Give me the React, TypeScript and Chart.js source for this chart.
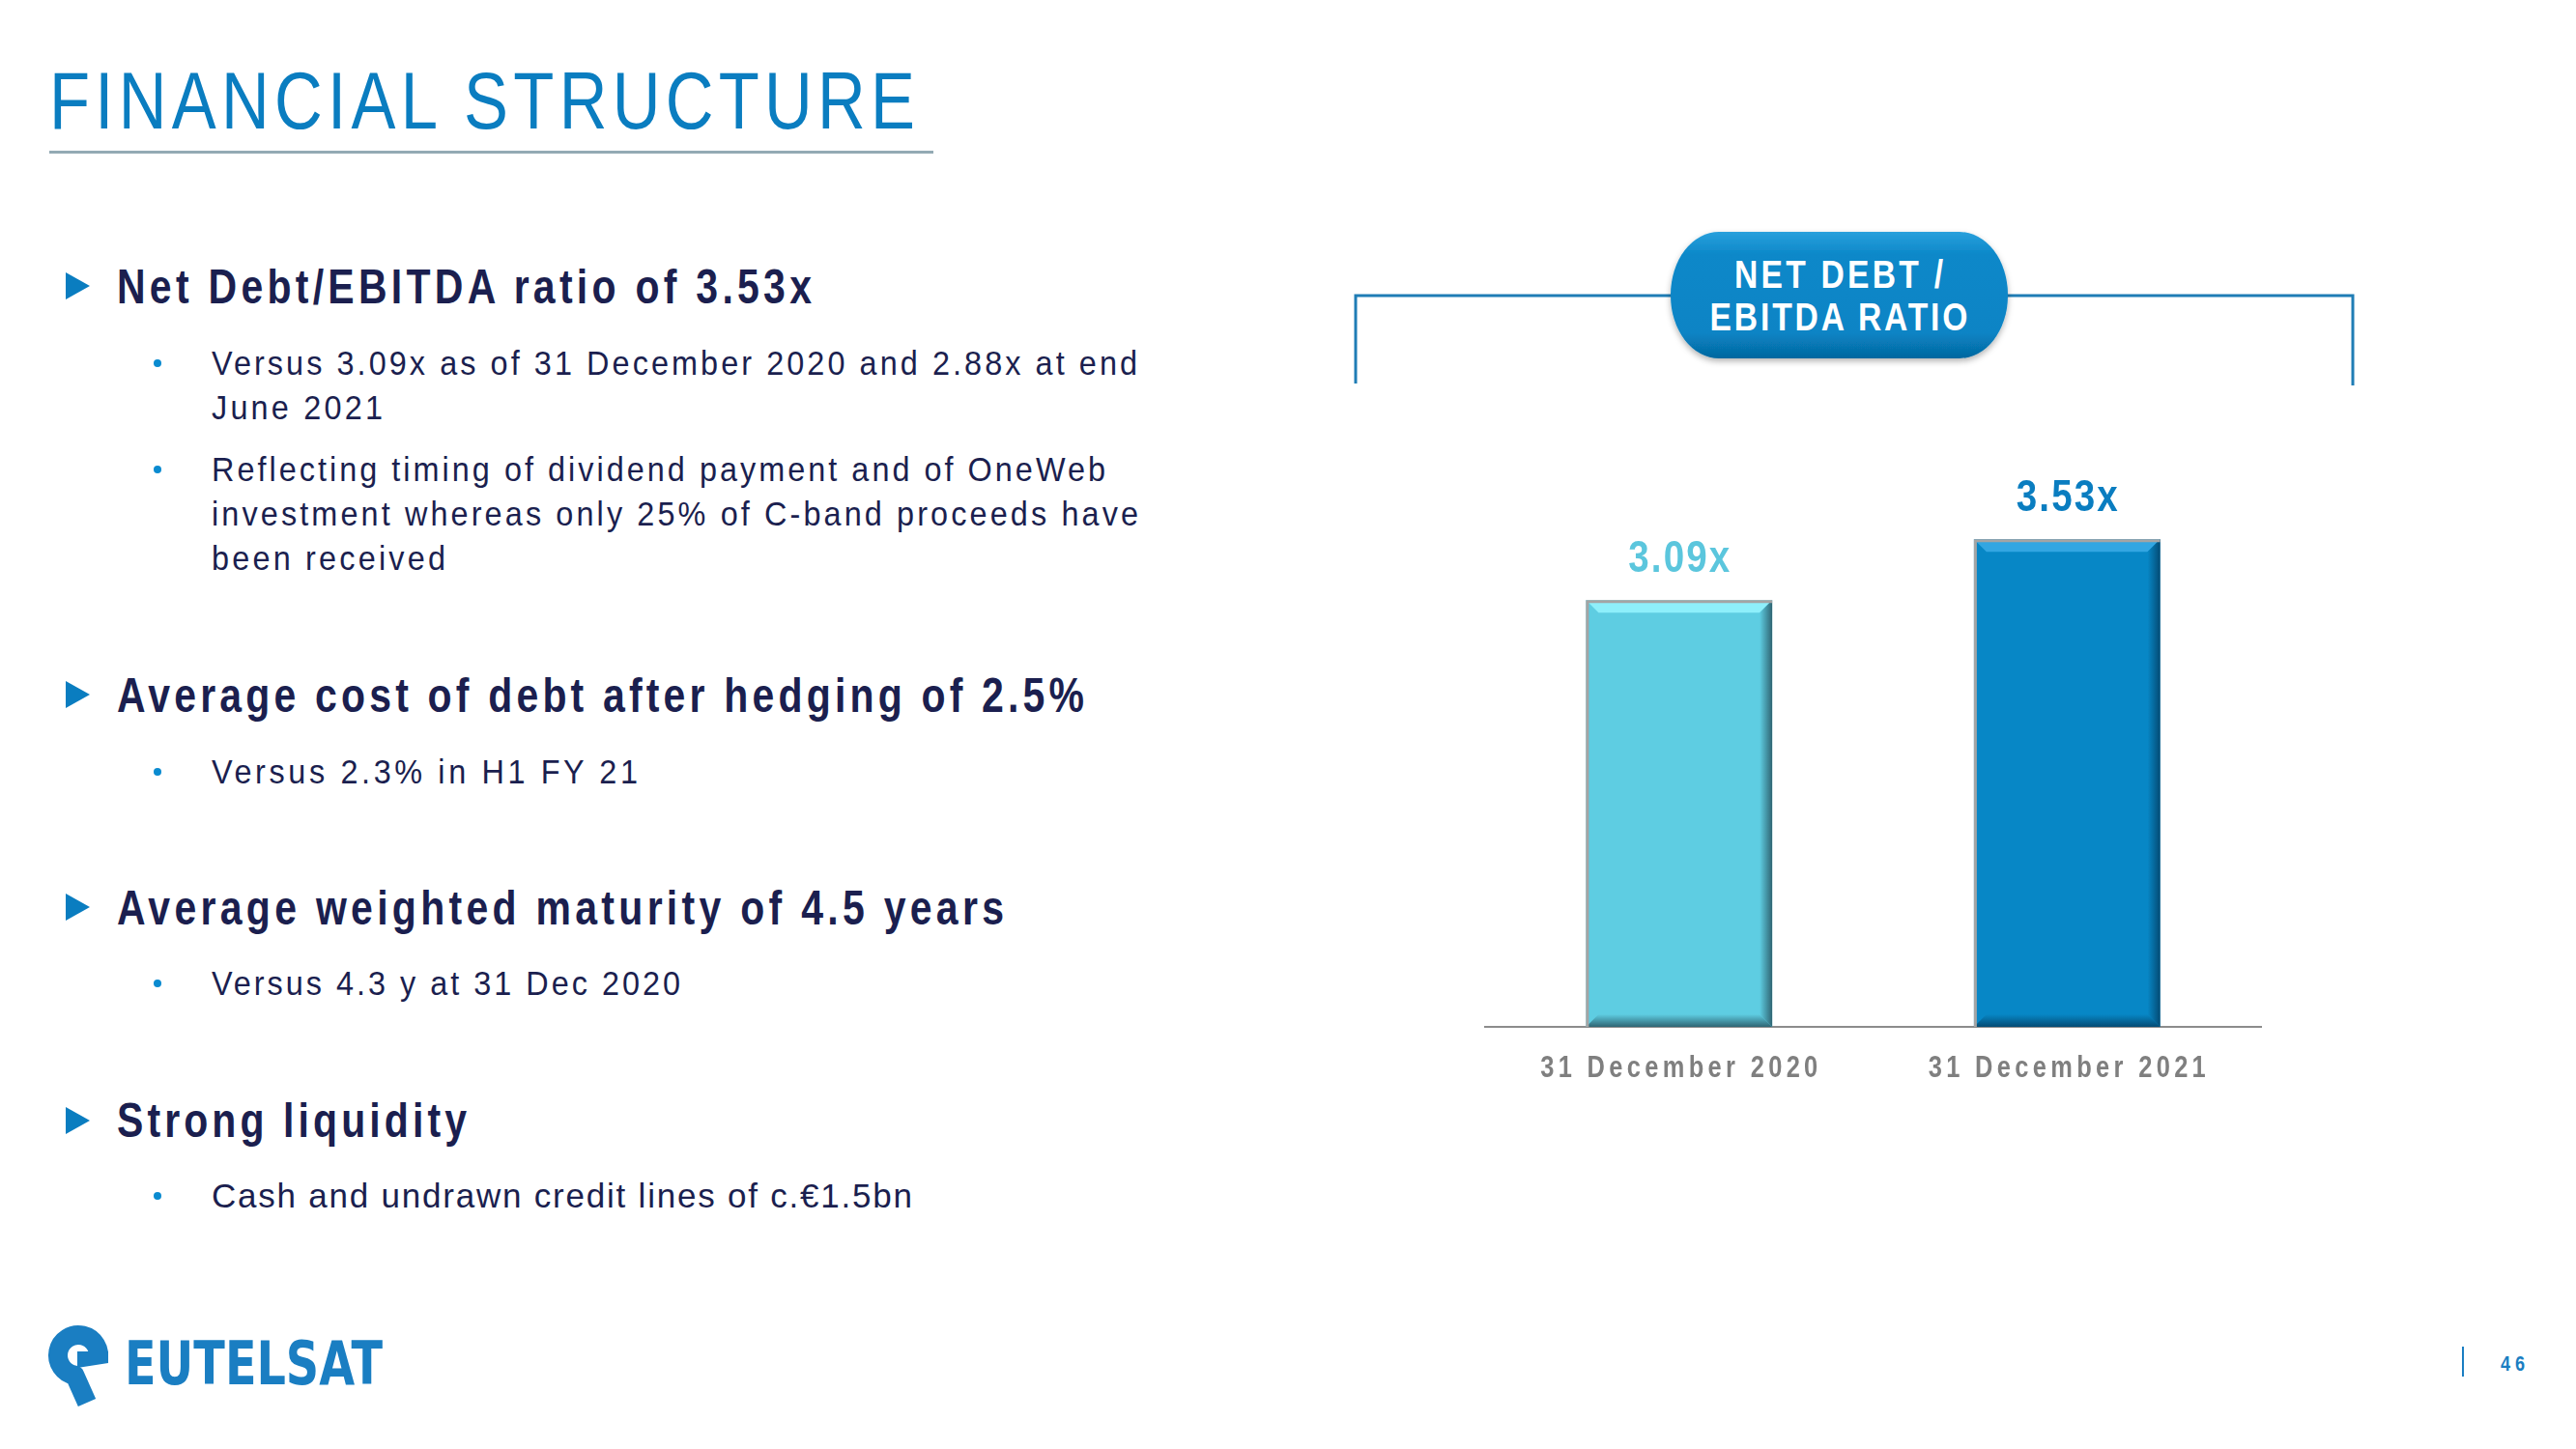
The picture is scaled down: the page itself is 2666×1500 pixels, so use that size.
import React, { useEffect, useRef } from "react";
import { Chart, registerables } from "chart.js";

Chart.register(...registerables);

// ---- chart data ----
const categories = ["31 December 2020", "31 December 2021"];
const ratioValues = [3.09, 3.53];
const valueSuffix = "x";
const yAxisMax = 4;

// ---- styles ----
const SANS = '"Liberation Sans", Arial, sans-serif';
const K = 0.82; // horizontal condensing (narrow face look)
const KB = 0.9; // body text condensing
const BLUE = "#0A7DC0";
const NAVY = "#1B1F4F";
const barColors = ["#5ECDE2", "#0787C6"];
const barLight = ["#8EEFFB", "#33A6E2"];
const barDark = ["#2F6573", "#044B74"];
const labelColors = ["#5BC6DD", "#0A7DC0"];
const tickLabelWidth = 287;
const valueLabelWidth = 105;

function poly(ctx: CanvasRenderingContext2D, pts: number[][], fill: any) {
  ctx.beginPath();
  ctx.moveTo(pts[0][0], pts[0][1]);
  for (let i = 1; i < pts.length; i++) ctx.lineTo(pts[i][0], pts[i][1]);
  ctx.closePath();
  ctx.fillStyle = fill;
  ctx.fill();
}

// draws text horizontally condensed, spaced to a target width, centred on cx
function drawCondensed(ctx: CanvasRenderingContext2D, text: string, cx: number, y: number, targetW: number) {
  ctx.save();
  (ctx as any).letterSpacing = "0px";
  const m = ctx.measureText(text).width;
  const n = text.length;
  const s = (targetW / K - m) / (n - 1);
  (ctx as any).letterSpacing = s + "px";
  ctx.translate(cx, y);
  ctx.scale(K, 1);
  ctx.textAlign = "left";
  ctx.textBaseline = "alphabetic";
  const total = m + s * (n - 1);
  ctx.fillText(text, -total / 2, 0);
  ctx.restore();
}

const bevelPlugin = {
  id: "bevel",
  afterDatasetsDraw(chart: any) {
    const ctx: CanvasRenderingContext2D = chart.ctx;
    const meta = chart.getDatasetMeta(0);
    meta.data.forEach((bar: any, i: number) => {
      const { x, y, base, width } = bar.getProps(["x", "y", "base", "width"], true);
      const L = x - width / 2;
      const R = x + width / 2;
      const T = y;
      const B = base;
      const b = 13;
      ctx.save();
      poly(ctx, [[L, T], [R, T], [R - b, T + b], [L + b, T + b]], barLight[i]);
      const gr = ctx.createLinearGradient(R - b, 0, R, 0);
      gr.addColorStop(0, barColors[i]);
      gr.addColorStop(1, barDark[i]);
      poly(ctx, [[R, T], [R, B], [R - b, B - b], [R - b, T + b]], gr);
      const gb = ctx.createLinearGradient(0, B - b, 0, B);
      gb.addColorStop(0, barColors[i]);
      gb.addColorStop(1, barDark[i]);
      poly(ctx, [[L, B], [R, B], [R - b, B - b], [L + b, B - b]], gb);
      ctx.strokeStyle = "#A4A4A4";
      ctx.lineWidth = 3;
      ctx.beginPath();
      ctx.moveTo(L + 1.5, B);
      ctx.lineTo(L + 1.5, T + 1.5);
      ctx.lineTo(R, T + 1.5);
      ctx.stroke();
      // value label
      ctx.font = `bold 47px ${SANS}`;
      ctx.fillStyle = labelColors[i];
      const v = chart.data.datasets[0].data[i] as number;
      drawCondensed(ctx, v.toFixed(2) + valueSuffix, x, T - 29, valueLabelWidth);
      ctx.restore();
    });
  },
};

const tickLabelPlugin = {
  id: "tickLabels",
  afterDraw(chart: any) {
    const ctx: CanvasRenderingContext2D = chart.ctx;
    const xs = chart.scales.x;
    ctx.save();
    ctx.font = `bold 31px ${SANS}`;
    ctx.fillStyle = "#7F7F7F";
    xs.ticks.forEach((t: any, i: number) => {
      const px = xs.getPixelForTick(i);
      const label = String(xs.getLabelForValue(t.value));
      drawCondensed(ctx, label, px, xs.top + 52, tickLabelWidth);
    });
    ctx.restore();
  },
};

type TProps = {
  x: number;
  y: number;
  w: number;
  size: number;
  weight?: string | number;
  fill?: string;
  anchor?: string;
  k?: number;
  children: React.ReactNode;
};

function Txt({ x, y, w, size, weight = "normal", fill = NAVY, anchor = "start", k = K, children }: TProps) {
  return (
    <text
      transform={`translate(${x} ${y}) scale(${k} 1)`}
      x={0}
      y={0}
      textLength={w / k}
      lengthAdjust="spacing"
      fontSize={size}
      fontWeight={weight as any}
      fill={fill}
      fontFamily={SANS}
      textAnchor={anchor as any}
    >
      {children}
    </text>
  );
}

function Tri({ cy }: { cy: number }) {
  return <polygon points={`68,${cy - 14} 93,${cy} 68,${cy + 14}`} fill={BLUE} />;
}

function Dot({ cy }: { cy: number }) {
  return <circle cx={163} cy={cy} r={4} fill="#0A8BD0" />;
}

export default function App() {
  const canvasRef = useRef<HTMLCanvasElement>(null);

  useEffect(() => {
    const c = canvasRef.current;
    if (!c) return;
    const chart = new Chart(c, {
      type: "bar",
      data: {
        labels: categories,
        datasets: [
          {
            data: ratioValues,
            backgroundColor: barColors,
            borderWidth: 0,
            categoryPercentage: 1,
            barPercentage: 0.48,
          },
        ],
      },
      options: {
        animation: false,
        responsive: false,
        devicePixelRatio: 1,
        layout: { padding: { left: 20, right: 20, top: 51, bottom: 0 } },
        plugins: {
          legend: { display: false },
          tooltip: { enabled: false },
          title: { display: false },
        },
        scales: {
          x: {
            grid: { display: false, drawTicks: false },
            border: { display: true, color: "#8C8C8C", width: 2 },
            ticks: { display: false, autoSkip: false },
            afterFit: (s: any) => {
              s.height = 80;
            },
          },
          y: { display: false, min: 0, max: yAxisMax },
        },
      } as any,
      plugins: [bevelPlugin, tickLabelPlugin],
    });
    return () => chart.destroy();
  }, []);

  return (
    <div
      style={{
        position: "absolute",
        left: 0,
        top: 0,
        width: 2666,
        height: 1500,
        background: "#ffffff",
        overflow: "hidden",
      }}
    >
      <svg width={2666} height={1500} style={{ position: "absolute", left: 0, top: 0 }}>
        <defs>
          <linearGradient id="pillGrad" x1="0" y1="0" x2="0" y2="1">
            <stop offset="0" stopColor="#2AA0DC" />
            <stop offset="0.18" stopColor="#0C88C9" />
            <stop offset="0.8" stopColor="#0884C5" />
            <stop offset="1" stopColor="#05679F" />
          </linearGradient>
          <filter id="pillShadow" x="-10%" y="-10%" width="120%" height="130%">
            <feDropShadow dx="0" dy="3" stdDeviation="3" floodColor="#000" floodOpacity="0.3" />
          </filter>
        </defs>

        {/* title */}
        <Txt x={51} y={133} w={896} size={84} fill={BLUE}>
          FINANCIAL STRUCTURE
        </Txt>
        <rect x={51} y={156} width={915} height={3} fill="#93AAB4" />

        {/* bullets */}
        <Tri cy={296} />
        <Txt x={121} y={314} w={719} size={50} weight="bold">
          Net Debt/EBITDA ratio of 3.53x
        </Txt>
        <Dot cy={376} />
        <Txt x={219} y={388} w={958} size={36} k={KB}>
          Versus 3.09x as of 31 December 2020 and 2.88x at end
        </Txt>
        <Txt x={219} y={434} w={177} size={36} k={KB}>
          June 2021
        </Txt>
        <Dot cy={486} />
        <Txt x={219} y={498} w={925} size={36} k={KB}>
          Reflecting timing of dividend payment and of OneWeb
        </Txt>
        <Txt x={219} y={544} w={959} size={36} k={KB}>
          investment whereas only 25% of C-band proceeds have
        </Txt>
        <Txt x={219} y={590} w={242} size={36} k={KB}>
          been received
        </Txt>

        <Tri cy={719} />
        <Txt x={121} y={737} w={1001} size={50} weight="bold">
          Average cost of debt after hedging of 2.5%
        </Txt>
        <Dot cy={799} />
        <Txt x={219} y={811} w={441} size={36} k={KB}>
          Versus 2.3% in  H1 FY 21
        </Txt>

        <Tri cy={939} />
        <Txt x={121} y={957} w={918} size={50} weight="bold">
          Average weighted maturity of 4.5 years
        </Txt>
        <Dot cy={1018} />
        <Txt x={219} y={1030} w={485} size={36} k={KB}>
          Versus 4.3 y at 31 Dec 2020
        </Txt>

        <Tri cy={1160} />
        <Txt x={121} y={1177} w={362} size={50} weight="bold">
          Strong liquidity
        </Txt>
        <Dot cy={1238} />
        <Txt x={219} y={1250} w={725} size={35} k={1}>
          Cash and undrawn credit lines of c.€1.5bn
        </Txt>

        {/* bracket + pill */}
        <path d="M 1403 397 L 1403 306 L 2435 306 L 2435 399" fill="none" stroke="#1F7DB5" strokeWidth={3} />
        <rect x={1729} y={240} width={349} height={131} rx={50} ry={65} fill="url(#pillGrad)" filter="url(#pillShadow)" />
        <Txt x={1903} y={298} w={216} size={41} weight="bold" fill="#ffffff" anchor="middle">
          NET DEBT /
        </Txt>
        <Txt x={1903} y={342} w={267} size={41} weight="bold" fill="#ffffff" anchor="middle">
          EBITDA RATIO
        </Txt>

        {/* logo */}
        <g transform="translate(50 1370)">
          <path
            d="M 51.3 38.4 A 21 21 0 1 0 27.4 53.7 L 40 82"
            fill="none"
            stroke="#1A7EC2"
            strokeWidth={20}
            strokeLinejoin="round"
          />
          <polygon points="30,29 62,29 62,41 30,46" fill="#1A7EC2" />
        </g>
        <text
          x={129}
          y={1433}
          textLength={267}
          lengthAdjust="spacingAndGlyphs"
          fontSize={88}
          fontWeight={800}
          fontFamily='"DejaVu Sans", sans-serif'
          fontVariant="small-caps"
          fill="#1A7EC2"
        >
          eutelsat
        </text>

        {/* page number */}
        <rect x={2548} y={1394} width={2} height={31} fill="#1A7EC2" />
        <Txt x={2588} y={1419} w={25} size={22} weight="bold" fill="#1A7EC2">
          46
        </Txt>
      </svg>

      <canvas
        ref={canvasRef}
        width={843}
        height={703}
        style={{ position: "absolute", left: 1517, top: 440, width: 843, height: 703 }}
      />
    </div>
  );
}
